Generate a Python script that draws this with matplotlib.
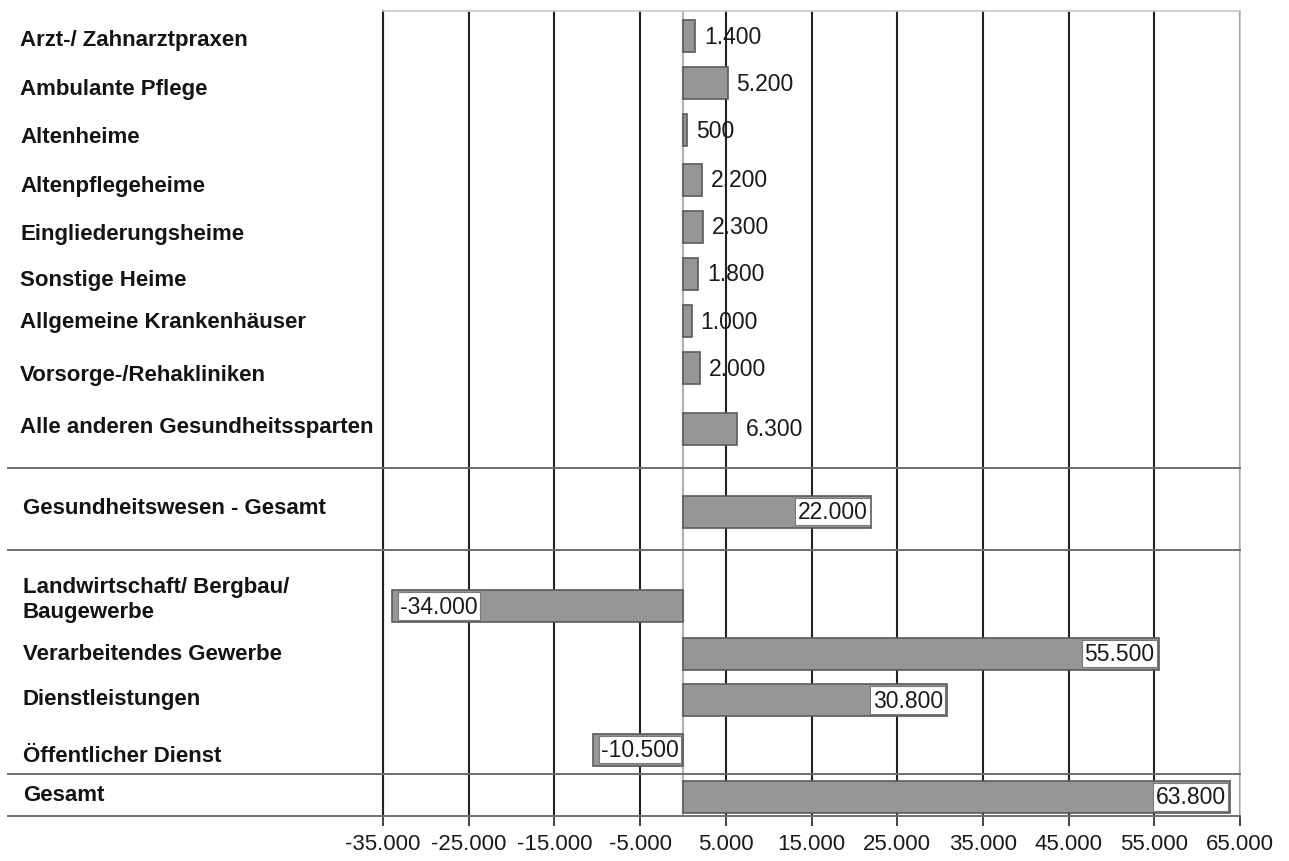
import matplotlib
matplotlib.use("Agg")
import matplotlib.pyplot as plt
from matplotlib.ticker import FuncFormatter, FixedLocator
from matplotlib.transforms import blended_transform_factory
from matplotlib.lines import Line2D

# ---------------- data ----------------
categories = [
    "Arzt-/ Zahnarztpraxen",
    "Ambulante Pflege",
    "Altenheime",
    "Altenpflegeheime",
    "Eingliederungsheime",
    "Sonstige Heime",
    "Allgemeine Krankenhäuser",
    "Vorsorge-/Rehakliniken",
    "Alle anderen Gesundheitssparten",
    "Gesundheitswesen - Gesamt",
    "Landwirtschaft/ Bergbau/\nBaugewerbe",
    "Verarbeitendes Gewerbe",
    "Dienstleistungen",
    "Öffentlicher Dienst",
    "Gesamt",
]
values = [1400, 5200, 500, 2200, 2300, 1800, 1000, 2000, 6300,
          22000, -34000, 55500, 30800, -10500, 63800]
x_ticks = [-35000, -25000, -15000, -5000, 5000, 15000, 25000, 35000,
           45000, 55000, 65000]

# ---------------- layout (pixel-based rows) ----------------
W, H = 1289, 862
bar_y = [37, 84, 131, 180.5, 227.5, 274.5, 322, 369, 429.5,
         512.5, 607, 654.5, 701, 750.5, 798]
label_y = [40, 89, 137, 186.5, 234, 280, 322, 375, 427.5,
           508, 600, 655, 700, 757, 796]
separators = [469, 551, 775, 817]
ax_left, ax_right, ax_top, ax_bottom = 383, 1240, 12, 817

plt.rcParams['font.family'] = ['Liberation Sans', 'DejaVu Sans']

fig = plt.figure(figsize=(W / 100, H / 100), dpi=100)
ax = fig.add_axes([ax_left / W, (H - ax_bottom) / H,
                   (ax_right - ax_left) / W, (ax_bottom - ax_top) / H])
ax.set_xlim(-35000, 65000)
ax.set_ylim(ax_bottom, ax_top)

# gridlines
for t in x_ticks:
    ax.axvline(t, color='#222222', lw=1.5, zorder=1)
ax.axvline(0, color='#b4b4b4', lw=1.6, zorder=1)

# bars
ax.barh(bar_y, values, height=32, color='#969696', edgecolor='#5a5a5a',
        linewidth=1.2, zorder=3)

# value labels
def fmt(v):
    return f"{int(v):,}".replace(",", ".")

for y, v in zip(bar_y, values):
    if abs(v) >= 10000:
        if v > 0:
            ax.annotate(fmt(v), (v, y), xytext=(-3, 0), textcoords='offset points',
                        ha='right', va='center', fontsize=16.5, color='#1a1a1a',
                        zorder=5,
                        bbox=dict(boxstyle='square,pad=0.1', fc='white',
                                  ec='#7a7a7a', lw=0.8))
        else:
            ax.annotate(fmt(v), (v, y), xytext=(6, 0), textcoords='offset points',
                        ha='left', va='center', fontsize=16.5, color='#1a1a1a',
                        zorder=5,
                        bbox=dict(boxstyle='square,pad=0.1', fc='white',
                                  ec='#7a7a7a', lw=0.8))
    else:
        ax.annotate(fmt(v), (v, y), xytext=(6.5, 0), textcoords='offset points',
                    ha='left', va='center', fontsize=16.5, color='#1a1a1a',
                    zorder=5)

# category labels
trans = blended_transform_factory(fig.transFigure, ax.transData)
for i, (lab, ly) in enumerate(zip(categories, label_y)):
    lx = 20 if i < 9 else 23
    ax.text(lx / W, ly, lab, transform=trans, ha='left', va='center',
            fontsize=16.0, fontweight='bold', color='#141414',
            linespacing=1.2, clip_on=False)

# separator lines
for sy in separators:
    ax.add_line(Line2D([8 / W, ax_right / W], [sy, sy], transform=trans,
                       color='#6e6e6e', lw=1.4, clip_on=False, zorder=4))

# spines
ax.spines['left'].set_color('#222222')
ax.spines['left'].set_linewidth(1.5)
ax.spines['top'].set_color('#c8c8c8')
ax.spines['top'].set_linewidth(1.2)
ax.spines['right'].set_color('#c0c0c0')
ax.spines['right'].set_linewidth(1.2)
ax.spines['bottom'].set_visible(False)

# ticks
ax.xaxis.set_major_locator(FixedLocator(x_ticks))
ax.xaxis.set_major_formatter(FuncFormatter(lambda v, p: fmt(v)))
ax.tick_params(axis='x', direction='out', length=7, width=1.2, color='#222222',
               labelsize=16, labelcolor='#1a1a1a', pad=5)
ax.set_yticks([])

fig.savefig("out.png", dpi=100)
